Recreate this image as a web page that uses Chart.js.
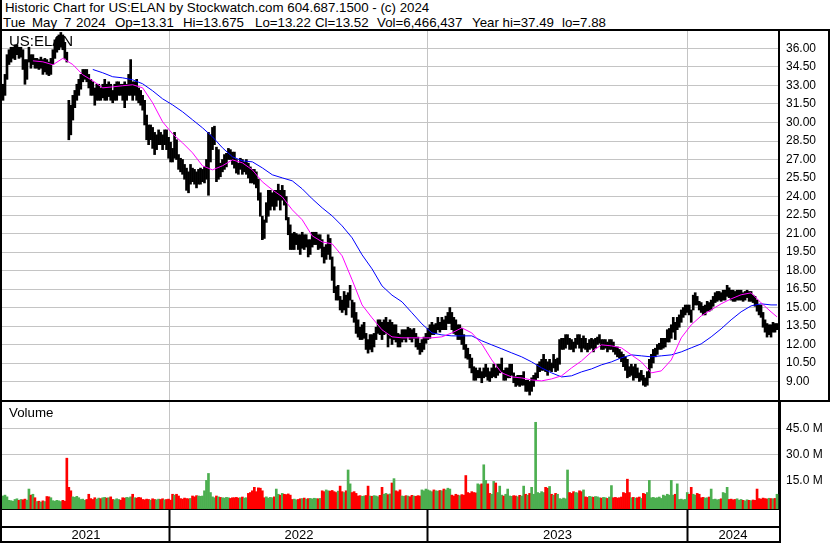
<!DOCTYPE html>
<html>
<head>
<meta charset="utf-8">
<script src="https://cdn.jsdelivr.net/npm/chart.js@4.4.1/dist/chart.umd.min.js"></script>
<style>
  body { margin: 0; background: #fff; }
  #wrap { position: relative; width: 830px; height: 543px; overflow: hidden; font-family: "Liberation Sans", Arial, sans-serif; color: #000; }
  .txt { position: absolute; font-size: 13.3px; line-height: 15px; white-space: pre; }
  .ln { position: absolute; background: #000; }
  canvas { position: absolute; left: 0; }
</style>
</head>
<body>
<div id="wrap">
  <div class="txt" style="left:5px; top:0">Historic Chart for US:ELAN by Stockwatch.com 604.687.1500 - (c) 2024</div>
  <div class="txt" style="left:3px; top:15px">Tue</div>
  <div class="txt" style="left:32px; top:15px">May</div>
  <div class="txt" style="left:64px; top:15px">7</div>
  <div class="txt" style="left:76px; top:15px">2024</div>
  <div class="txt" style="left:115px; top:15px">Op=13.31</div>
  <div class="txt" style="left:183px; top:15px">Hi=13.675</div>
  <div class="txt" style="left:255px; top:15px">Lo=13.22</div>
  <div class="txt" style="left:315px; top:15px">Cl=13.52</div>
  <div class="txt" style="left:377px; top:15px">Vol=6,466,437</div>
  <div class="txt" style="left:472px; top:15px">Year hi=37.49</div>
  <div class="txt" style="left:562px; top:15px">lo=7.88</div>

  <canvas id="precio" width="830" height="370" style="top:30px"></canvas>
  <canvas id="volumen" width="830" height="139" style="top:402px"></canvas>

  <div class="txt" style="left:9px; top:32px; font-size:15px; line-height:17px">US:ELAN</div>
  <div class="txt" style="left:9px; top:405px">Volume</div>

  <!-- marcos -->
  <div class="ln" style="left:0; top:0; width:2px; height:543px"></div>
  <div class="ln" style="left:0; top:29px; width:830px; height:2px"></div>
  <div class="ln" style="left:828px; top:29px; width:2px; height:373px"></div>
  <div class="ln" style="left:0; top:400px; width:830px; height:2px"></div>
  <div class="ln" style="left:0; top:526px; width:781px; height:2px"></div>
  <div class="ln" style="left:0; top:541px; width:781px; height:2px"></div>
  <div class="ln" style="left:779px; top:402px; width:2px; height:141px"></div>
</div>

<script>
// DATOS (cada muestra = ~2 sesiones, mayo 2021 -> mayo 2024)
const priceHigh = [
  33.1,33.9,35.5,35.9,36.1,36.1,36.3,36.3,36.1,36.1,
  35.9,35.1,35.1,36.1,35.5,35.5,35.2,35.2,35.1,35.3,
  35.1,35.2,35.1,34.9,35.2,35.9,36.7,36.9,37.1,37.3,
  37.1,36.5,35.7,31.8,31.4,32.2,32.6,33.1,33.5,33.9,
  34.3,34.3,34.3,33.9,33.5,33.3,32.8,33.1,33.1,32.8,
  33.1,33.5,33.1,33.3,33.1,32.6,33.1,33.3,33.3,33.1,
  33.1,33.3,33.1,33.9,35.1,33.3,33.3,33.5,32.8,32.6,
  32.2,31.8,30.6,29.8,29.8,29.6,29.2,29.0,29.4,29.2,
  29.0,29.4,29.4,28.8,28.4,27.9,29.2,28.6,27.4,27.1,
  27.0,26.6,26.3,26.0,26.6,26.3,26.2,26.0,26.2,26.3,
  26.2,26.4,27.0,29.2,29.0,29.6,29.7,28.0,27.8,26.7,
  27.0,27.4,27.5,27.9,27.8,27.6,27.6,27.0,26.7,27.1,
  27.0,26.8,27.0,26.7,26.4,26.2,26.2,26.0,25.4,24.3,
  22.4,22.1,23.5,24.5,24.5,24.3,24.5,24.5,25.0,24.5,
  24.9,24.5,24.0,22.3,21.7,21.0,21.1,21.0,20.9,20.9,
  21.1,20.9,20.9,20.5,20.5,21.1,21.1,21.1,20.9,20.9,
  20.5,19.9,20.1,20.9,20.6,19.1,18.3,16.7,16.8,15.9,
  15.6,16.3,16.0,16.2,16.8,15.6,15.4,14.6,14.0,13.4,
  13.6,13.8,12.9,12.4,12.8,12.8,12.9,13.4,14.0,14.0,
  13.8,14.0,14.2,13.8,14.0,13.8,13.6,13.6,12.9,12.8,
  13.2,13.2,13.2,13.4,13.3,13.2,13.3,12.9,12.6,12.1,
  12.4,12.6,12.9,13.3,13.6,13.8,13.6,13.7,14.2,13.8,
  14.2,14.0,14.3,14.6,15.0,14.6,14.2,14.0,13.6,13.6,
  13.3,12.8,12.0,11.7,11.2,10.9,10.2,10.1,9.9,10.1,
  9.8,10.1,10.4,10.1,9.8,10.1,10.4,10.1,10.4,10.4,
  10.9,9.9,10.1,10.1,10.4,10.4,9.7,9.4,9.5,9.5,
  9.5,9.8,9.1,9.1,9.0,9.3,9.5,9.7,10.4,10.6,
  10.8,11.2,10.8,10.6,10.8,10.5,11.2,10.8,10.9,12.4,
  12.5,12.5,12.8,12.8,12.5,12.4,12.2,12.5,12.8,12.8,
  12.5,12.7,12.5,12.1,12.4,12.5,12.4,12.5,12.6,12.8,
  12.4,12.4,12.4,12.2,12.4,12.4,12.2,11.8,11.8,11.6,
  11.4,11.2,11.0,10.8,10.2,10.4,10.2,10.4,10.1,9.7,
  9.9,9.5,9.3,9.8,10.8,11.2,11.6,11.7,12.0,12.1,
  12.5,12.5,12.5,13.2,13.3,13.6,14.2,13.8,14.2,14.4,
  14.8,15.0,15.2,15.2,15.2,14.8,16.0,16.2,15.9,15.5,
  15.4,15.1,15.2,15.5,15.4,15.6,15.9,16.2,16.3,16.3,
  16.2,16.4,16.4,16.8,16.6,16.4,16.4,16.3,16.4,16.4,
  16.4,16.2,16.3,16.4,16.3,16.3,16.0,15.9,15.6,15.2,
  15.2,14.6,14.0,13.7,13.6,13.6,13.8,13.7,13.7
];
const priceLow = [
  31.8,32.2,33.5,34.7,34.9,35.2,35.1,35.5,35.2,35.3,
  34.3,33.1,33.5,34.9,34.4,34.7,34.4,34.4,34.3,34.4,
  33.9,34.1,33.9,33.8,33.9,34.7,35.2,35.7,35.9,36.1,
  35.9,35.2,34.9,28.6,29.0,30.2,31.2,31.8,32.2,32.7,
  33.3,33.5,33.3,32.8,32.2,32.2,31.4,31.8,31.8,31.8,
  32.0,31.8,31.8,32.1,31.8,31.6,31.8,31.8,32.2,32.2,
  31.8,31.2,31.8,32.2,32.2,31.8,32.2,31.8,31.6,31.4,
  31.0,29.8,28.6,28.2,28.6,27.9,27.4,27.8,28.2,28.2,
  27.8,28.2,27.8,27.1,26.8,26.8,27.1,27.0,26.2,26.0,
  25.8,25.4,24.5,24.3,25.0,25.2,25.0,24.7,25.0,25.0,
  25.2,25.1,25.4,24.1,26.8,27.8,28.2,25.2,25.4,25.6,
  26.0,26.2,26.4,27.0,27.0,26.6,26.3,25.9,25.8,26.2,
  25.8,26.0,25.8,25.5,25.1,25.1,25.0,24.7,23.7,22.4,
  20.5,20.6,21.9,22.4,22.9,23.2,22.9,23.2,23.7,22.9,
  23.7,23.3,22.1,20.9,19.7,19.7,19.7,20.1,19.7,19.3,
  19.8,19.7,19.9,19.1,19.3,19.9,20.1,20.1,19.7,19.8,
  19.1,18.6,18.9,19.3,18.9,17.2,16.2,15.6,15.6,14.8,
  14.6,14.8,14.4,15.0,15.6,14.2,13.8,12.9,12.6,12.4,
  12.4,12.5,11.6,11.3,11.6,11.4,11.8,12.4,12.9,12.8,
  12.4,12.8,12.9,11.8,12.5,12.0,12.4,12.2,11.8,11.8,
  12.2,12.4,12.2,12.6,12.4,12.2,12.5,11.8,11.6,11.2,
  11.4,11.6,12.1,12.4,12.5,12.8,12.8,12.9,13.2,13.0,
  13.2,13.2,13.2,13.7,13.7,13.2,12.9,12.8,12.4,12.4,
  12.0,11.6,10.9,10.8,10.1,9.7,9.1,9.1,9.3,9.3,
  8.9,9.3,9.4,9.1,9.0,9.3,9.4,9.3,9.5,9.7,
  9.8,9.1,9.1,9.3,9.3,9.5,8.9,8.6,8.7,8.6,
  8.7,8.7,8.2,8.2,7.9,8.2,8.6,9.1,9.3,9.8,
  9.9,9.9,9.8,9.5,9.9,9.8,10.1,9.8,9.9,10.4,
  11.6,11.6,11.7,12.0,11.6,11.6,11.4,11.7,12.0,11.7,
  11.4,11.7,11.6,11.4,11.6,11.7,11.4,11.7,12.0,12.1,
  11.6,11.6,11.7,11.4,11.6,11.6,11.4,11.2,11.0,10.9,
  10.6,10.2,9.9,9.3,9.4,9.5,9.1,9.3,9.3,9.0,
  9.1,8.7,8.6,8.7,9.3,10.1,10.5,11.0,11.2,11.6,
  11.6,11.7,11.8,12.2,12.2,12.5,13.0,12.4,13.2,13.4,
  13.8,14.2,14.4,14.6,14.4,13.8,14.8,15.2,15.2,14.8,
  14.6,14.4,14.4,14.7,14.7,14.8,15.1,15.4,15.5,15.6,
  15.5,15.6,15.6,15.9,15.8,15.6,15.5,15.5,15.6,15.6,
  15.6,15.5,15.6,15.8,15.5,15.5,15.4,15.1,14.7,14.4,
  14.2,13.4,13.0,12.6,12.8,12.6,13.0,13.0,13.2
];
// medias moviles, un valor cada 5 muestras (el ultimo va en la muestra final)
const maStep = 5;
const maFast = [
  null,null,null,35.0,34.92,34.68,35.2,34.7,33.87,33.38,
  32.81,32.89,32.98,33.06,32.81,31.6,30.06,29.08,28.35,27.54,
  26.49,26.16,26.49,26.97,26.73,26.16,25.19,24.54,23.97,22.92,
  22.11,20.81,20.32,20.16,19.19,17.24,15.21,14.16,13.19,12.62,
  12.54,12.54,12.54,12.54,12.62,12.94,13.35,12.94,12.05,10.75,
  9.70,9.37,9.29,9.13,9.05,9.21,9.46,10.1,10.67,11.40,
  11.97,11.89,11.73,11.16,10.59,9.70,9.86,10.75,12.54,13.59,
  14.32,14.81,15.30,15.70,16.03,16.19,15.38,14.65,14.24
];
const maSlow = [
  null,null,null,null,null,null,null,null,null,34.3,
  34.03,33.71,33.62,33.46,33.14,32.57,31.92,31.43,30.87,30.22,
  29.57,28.84,27.95,27.22,26.89,26.81,26.32,25.76,25.51,25.27,
  24.62,23.81,23.08,22.43,21.62,20.65,19.27,18.13,16.75,16.0,
  15.46,14.57,13.67,12.94,12.78,12.70,12.70,12.70,12.30,11.97,
  11.65,11.32,11.0,10.59,10.1,9.70,9.37,9.46,9.78,10.02,
  10.35,10.59,10.92,11.16,11.08,11.0,11.08,11.16,11.40,11.73,
  12.05,12.62,13.27,14.0,14.65,15.13,15.30,15.21,15.21
];
// volumen en millones
const volume = [
  6,6.5,5.5,3.5,3.3,3,4,4.4,3.5,4,
  3.8,4.2,3.6,10,6.5,7,5,2.8,3,2.5,
  3.2,2.8,5.7,5.5,5,3.3,3,3.5,3.2,2.8,
  3.5,3,27.8,11,9,5.5,5.2,5.8,5,4,
  4.2,3.5,4,7,4.5,4,5,4.2,4.8,4.5,
  5,5.2,4.8,5,5.5,4,3.8,4.4,4,3.6,
  5,4.8,5.2,5,5.5,7,5,4.8,5.2,5,
  4,3.8,4.2,4,3.6,4.4,4,3.8,4.2,4,
  4.4,3.8,4,4.2,3.6,7,6.5,7,6,4.5,
  4.2,4.8,4.5,4.4,4.6,6,5.5,6.2,6,5.8,
  6,9,15,19,8,5.5,5,6,5.5,5.2,
  5,4.8,5.2,5,4.6,5,5,5.2,4.8,5,
  5.4,4.8,5,7.5,8,9,11,8.5,10.7,10.5,
  9,5,5.5,4.8,5.2,5,5.5,10,7,6.5,
  7.5,7,6.8,7.2,6.5,4,4.2,3.8,4,4.4,
  4.5,4.8,4.2,4.5,4.6,4.3,4.7,4.5,4.4,4.6,
  9,8.5,9.5,9,8.8,9.2,8.5,8,8.8,11.7,
  8.5,8,9,21,13,8,8.5,7.5,6,6.2,
  5.8,6,6.3,11.7,6,5.8,6.2,6,5.6,6.4,
  11,7,7.5,6.8,7.2,13.5,16,9,8.5,9.5,
  6,5.8,6.2,6,5.6,6.4,6,5.8,6.2,6,
  9.5,9,10,9.5,9,8.5,9.5,9,8.8,9.2,
  9,10,9.5,10.5,10,6.5,6,7,6.5,6.2,
  6.8,6.5,17.8,8,7.5,8.5,8,7.8,13,12.5,
  13,24,15,13,7.5,7,14.4,13.5,8,11.7,
  6.5,6,7,10,6,5.8,6.2,6,5.6,6.4,
  6,11.7,7,6.5,7.5,11,7,48.5,8,7.5,
  8.5,8,11,10.5,11.5,7,6.5,7.5,7,4.5,
  4.2,4.8,4.4,21,8,7.5,8.5,8,7.8,9,
  8.5,9.5,5.5,5.2,5.8,5.5,5.3,5.7,5.5,5,
  4.8,5.2,5,4.6,5.4,12,5,5.2,4.8,5,
  5.4,8,7.5,15.7,8,5,5.2,4.8,5,5.4,
  4.6,7.5,7,8,15,5,5.2,4.8,5,5.4,
  4.6,6.5,6,7,6.5,15,6.5,7,13,4,
  4.2,3.8,4,8,7,11,7,6.5,7.5,7,
  5,5.2,4.8,5,5.4,10,4,4.2,3.8,4,
  4.4,8,7.5,11,4,4.2,3.8,4,4.4,3.6,
  4,3.5,3.2,3.8,3.5,3.3,3.7,3.5,10,4.5,
  4.2,4.8,4.5,4.3,4.7,4.5,4.4,4.6,7
];
const priceTicks = [9, 10.5, 12, 13.5, 15, 16.5, 18, 19.5, 21, 22.5, 24, 25.5, 27, 28.5, 30, 31.5, 33, 34.5, 36];
const volumeTicks = [15, 30, 45];
const yearLabels = ["2021", "2022", "2023", "2024"];
// muestra donde empieza cada año nuevo
const yearBounds = [83.7, 213, 342.9];

// rangos de los ejes
const xMin = -0.5, xMax = 389;
const priceMin = 7.5, priceMax = 37.5;
const volMin = -1.5, volMax = 60.2;

const GRIS = "#c4c4c4";
const VERDE = "#4caf50";
const ROJO = "#ff0000";

Chart.defaults.font.family = '"Liberation Sans", Arial, sans-serif';
Chart.defaults.color = "#000";

// centro de cada tramo anual, para poner la etiqueta del año
const limites = [xMin, ...yearBounds, xMax];
const yearCenters = yearLabels.map((_, k) => (limites[k] + limites[k + 1]) / 2);

function puntosMedia(serie) {
    return serie.map((v, k) => ({ x: Math.min(k * maStep, priceHigh.length - 1), y: v }));
}

function colorVolumen(i) {
    if (i == 0) return VERDE;
    return (priceHigh[i] + priceLow[i]) >= (priceHigh[i - 1] + priceLow[i - 1]) ? VERDE : ROJO;
}

function ejeDerecho(min, max, ticks, formato) {
    return {
        position: "right",
        min: min,
        max: max,
        afterBuildTicks: (s) => { s.ticks = ticks.map((v) => ({ value: v })); },
        ticks: { padding: 7, font: { size: 12 }, callback: formato },
        grid: { color: GRIS, drawTicks: false },
        border: { color: "#000", width: 2 },
        afterFit: (s) => { s.width = 51; s.paddingTop = 0; s.paddingBottom = 0; }
    };
}

const opcionesBase = {
    responsive: false,
    animation: false,
    devicePixelRatio: 1,
    plugins: { legend: { display: false }, tooltip: { enabled: false } },
    layout: { padding: { left: 2, right: 0, top: 0, bottom: 0 } }
};

// grafico de precios
new Chart(document.getElementById("precio"), {
    type: "bar",
    data: {
        datasets: [
            { type: "line", data: puntosMedia(maFast), borderColor: "#ff00ff", borderWidth: 1, pointRadius: 0 },
            { type: "line", data: puntosMedia(maSlow), borderColor: "#0000ff", borderWidth: 1, pointRadius: 0 },
            {
                type: "bar",
                data: priceHigh.map((h, i) => ({ x: i, y: [priceLow[i], h] })),
                backgroundColor: "#000",
                barThickness: 2,
                grouped: false
            }
        ]
    },
    options: {
        ...opcionesBase,
        scales: {
            x: {
                type: "linear", min: xMin, max: xMax, offset: false,
                afterBuildTicks: (s) => { s.ticks = yearBounds.map((v) => ({ value: v })); },
                ticks: { display: false },
                grid: { color: GRIS, drawTicks: false, offset: false },
                border: { display: false },
                afterFit: (s) => { s.height = 0; s.paddingLeft = 0; s.paddingRight = 0; }
            },
            y: ejeDerecho(priceMin, priceMax, priceTicks, (v) => Number(v).toFixed(2))
        }
    }
});

// grafico de volumen
new Chart(document.getElementById("volumen"), {
    type: "bar",
    data: {
        datasets: [{
            data: volume.map((v, i) => ({ x: i, y: v })),
            backgroundColor: volume.map((v, i) => colorVolumen(i)),
            barThickness: 2,
            grouped: false,
            base: volMin
        }]
    },
    options: {
        ...opcionesBase,
        scales: {
            x: {
                type: "linear", min: xMin, max: xMax, offset: false,
                afterBuildTicks: (s) => {
                    s.ticks = [...yearBounds, ...yearCenters].sort((a, b) => a - b).map((v) => ({ value: v }));
                },
                ticks: {
                    autoSkip: false, maxRotation: 0, padding: -13, font: { size: 13 },
                    callback: (v) => {
                        const k = yearCenters.indexOf(v);
                        return k >= 0 ? yearLabels[k] : "";
                    }
                },
                grid: {
                    offset: false,
                    color: (c) => yearBounds.includes(c.tick && c.tick.value) ? GRIS : "rgba(0,0,0,0)",
                    tickColor: (c) => yearBounds.includes(c.tick && c.tick.value) ? "#000" : "rgba(0,0,0,0)",
                    tickLength: 32,
                    tickWidth: 2
                },
                border: { color: "#000", width: 2 },
                afterFit: (s) => { s.height = 32; s.paddingLeft = 0; s.paddingRight = 0; }
            },
            y: ejeDerecho(volMin, volMax, volumeTicks, (v) => Number(v).toFixed(1) + " M")
        }
    }
});
</script>
</body>
</html>
